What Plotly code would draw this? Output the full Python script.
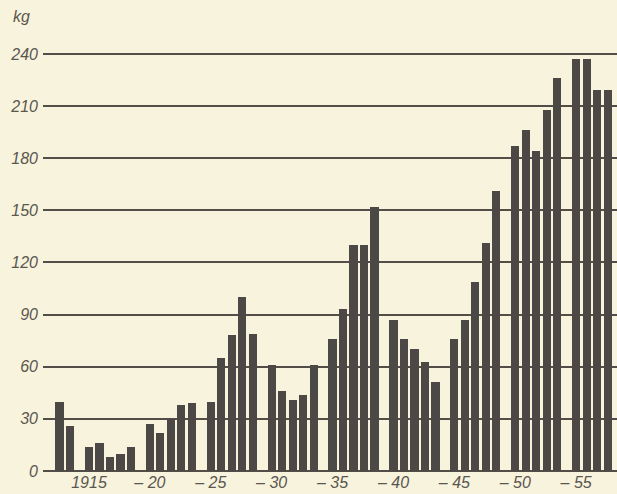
import plotly.graph_objects as go

# yearly values, kg
years = list(range(1913, 1959))
kg = [40, 26,
      14, 16, 8, 10, 14,
      27, 22, 30, 38, 39,
      40, 65, 78, 100, 79,
      61, 46, 41, 44, 61,
      76, 93, 130, 130, 152,
      87, 76, 70, 63, 51,
      76, 87, 109, 131, 161,
      187, 196, 184, 208, 226,
      237, 237, 219, 219]
tick_years = [1915, 1920, 1925, 1930, 1935, 1940, 1945, 1950, 1955]
tick_labels = ['1915', '\u2013 20', '\u2013 25', '\u2013 30', '\u2013 35',
               '\u2013 40', '\u2013 45', '\u2013 50', '\u2013 55']
y_ticks = [0, 30, 60, 90, 120, 150, 180, 210, 240]


def pos(year):
    # bars are drawn in groups of five years with a small gap between groups
    return year + 0.8 * ((year - 1915) // 5)


paper = '#f8f3dc'
ink = '#4b4845'
text = '#5a5650'
font = dict(family='Liberation Sans', size=16, color=text, style='italic')

fig = go.Figure()
fig.add_bar(x=[pos(y) for y in years], y=kg, width=0.78,
            marker=dict(color=ink, line=dict(width=0)), showlegend=False)

fig.update_layout(
    width=617, height=494,
    margin=dict(l=43, r=0, t=30, b=23),
    paper_bgcolor=paper, plot_bgcolor=paper,
    font=font,
    bargap=0,
    xaxis=dict(range=[pos(1913) - 1.58, pos(1958) + 0.89], automargin=False,
               tickvals=[pos(y) for y in tick_years], ticktext=tick_labels,
               showgrid=False, zeroline=False, showline=False, ticks='',
               ticklabelstandoff=0, tickfont=font),
    yaxis=dict(range=[0, 253.8], tickvals=y_ticks, automargin=False,
               showgrid=True, gridcolor='#524d46', gridwidth=2,
               zeroline=True, zerolinecolor='#524d46', zerolinewidth=2,
               showline=False, ticks='', ticklabelstandoff=4, tickfont=font),
)
fig.add_annotation(text='kg', xref='paper', yref='paper', x=-0.055, y=1.03,
                   xanchor='left', yanchor='middle', showarrow=False, font=font)

# drop the page's default body margin so the figure fills the window
fig.write_html('out.html', config={'displayModeBar': False},
               post_script="document.body.style.margin='0';"
                           "document.body.style.background='%s';" % paper)
